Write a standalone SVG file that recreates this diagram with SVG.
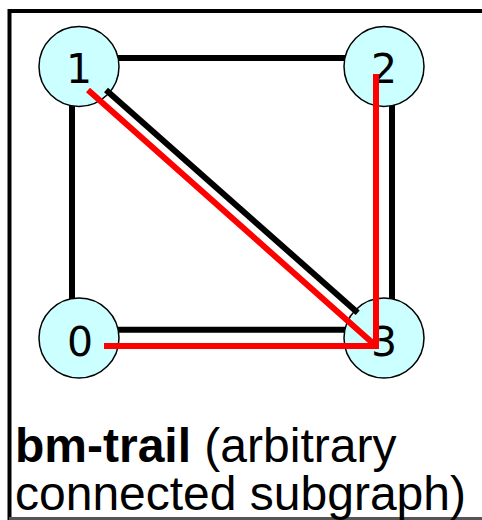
<svg xmlns="http://www.w3.org/2000/svg" width="482" height="520" viewBox="0 0 482 520">
<style>
.node circle{fill:#ccffff;stroke:#000;stroke-width:1.5}
.node text{font-family:"DejaVu Sans",Verdana,sans-serif;font-size:41px;text-anchor:middle;fill:#000}
.edge{stroke:#000;stroke-width:6;fill:none}
.hl{stroke:#ff0000;stroke-width:6;fill:none;stroke-linejoin:miter}
.cap{font-family:"Liberation Sans",Arial,sans-serif;font-size:48px;fill:#000}
</style>
<rect width="482" height="520" fill="#fff"/>
<path d="M9.5 520 V11 H484" fill="none" stroke="#000" stroke-width="4"/>
<line x1="9" y1="518.5" x2="482" y2="518.5" stroke="#555" stroke-width="3"/>
<g id="connectors">
<line class="edge" x1="110" y1="58" x2="350" y2="58"/>
<line class="edge" x1="72" y1="100" x2="72" y2="305"/>
<line class="edge" x1="392" y1="100" x2="392" y2="305"/>
<line class="edge" x1="110" y1="329.7" x2="350" y2="329.7"/>
</g>
<g id="node1" class="node"><circle cx="79" cy="66.5" r="40"/><text x="79" y="83">1</text></g>
<g id="node2" class="node"><circle cx="384" cy="66.5" r="40"/><text x="384" y="83">2</text></g>
<g id="node0" class="node"><circle cx="79" cy="338" r="40"/><text x="80" y="356">0</text></g>
<g id="node3" class="node"><circle cx="384" cy="338" r="40"/><text x="384" y="356">3</text></g>
<g id="highlight">
<line class="edge" x1="106" y1="90" x2="357.7" y2="312.7"/>
<path class="hl" d="M88 90 L376 346 M104 346 H379 M376 74 V349"/>
</g>
<text class="cap" x="15" y="462"><tspan font-weight="bold">bm-trail</tspan> (arbitrary</text>
<text class="cap" x="15" y="510">connected subgraph)</text>
</svg>
